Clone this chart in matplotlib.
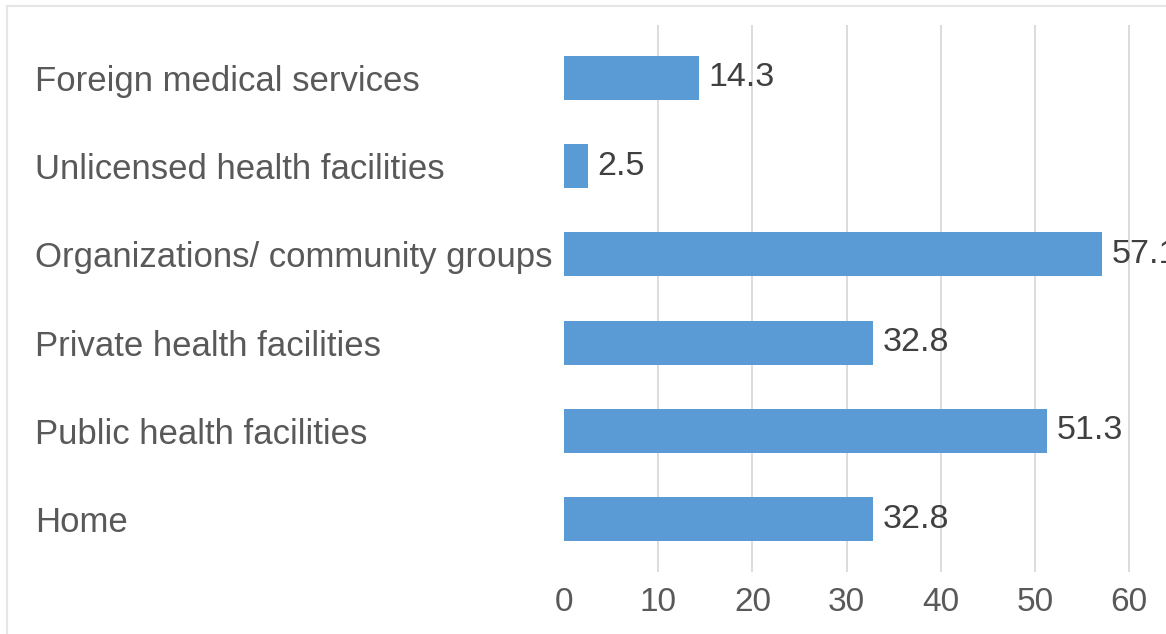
import matplotlib.pyplot as plt
from matplotlib.lines import Line2D

categories = ["Home", "Public health facilities", "Private health facilities",
              "Organizations/ community groups", "Unlicensed health facilities",
              "Foreign medical services"]
values = [32.8, 51.3, 32.8, 57.1, 2.5, 14.3]
xticks = [0, 10, 20, 30, 40, 50, 60]

plt.rcParams['font.family'] = ['Liberation Sans', 'DejaVu Sans']

W, H = 1166, 634
fig = plt.figure(figsize=(W / 100, H / 100), dpi=100)
# axes: x=0 sits at 564 px, plot runs off the right edge
ax = fig.add_axes([564 / W, (H - 572) / H, (W - 564) / W, (572 - 25) / H])

ypos = list(range(len(categories)))
ax.barh(ypos, values, height=0.5, color='#5B9BD5', zorder=3)
for y, v in zip(ypos, values):
    ax.annotate(f"{v}", (v, y), xytext=(7, 0), textcoords='offset points',
                va='center', ha='left', fontsize=24.5, color='#404040',
                annotation_clip=False)

ax.set_xlim(0, 63.9)
ax.set_ylim(-0.6, 5.6)
ax.set_xticks(xticks)
ax.set_xticklabels([str(t) for t in xticks])
ax.set_yticks(ypos)
ax.set_yticklabels(categories)
for lbl in ax.get_yticklabels():
    lbl.set_ha('left')

ax.tick_params(axis='y', length=0, pad=(564 - 35) * 0.72, labelsize=25,
               labelcolor='#595959')
ax.tick_params(axis='x', length=0, pad=11, labelsize=24, labelcolor='#595959')

# vertical gridlines, none at zero
for t in xticks[1:]:
    ax.axvline(t, color='#d9d9d9', lw=1.3, zorder=1)
for s in ax.spines.values():
    s.set_visible(False)

# thin frame on the top and left of the figure
fig.add_artist(Line2D([7 / W, 1], [1 - 6 / H, 1 - 6 / H], color='#e6e6e6', lw=1.5))
fig.add_artist(Line2D([7 / W, 7 / W], [0, 1 - 6 / H], color='#e6e6e6', lw=1.5))

fig.savefig('out.png', dpi=100)
